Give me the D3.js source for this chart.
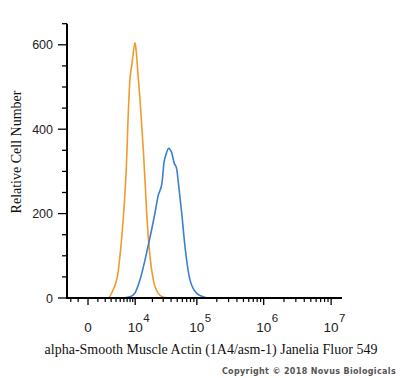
<!DOCTYPE html>
<html>
<head>
<meta charset="utf-8">
<script src="https://cdn.jsdelivr.net/npm/d3@7"></script>
<style>
  body { margin: 0; background: #fff; }
  svg { display: block; }
</style>
</head>
<body>
<svg id="chart" width="400" height="378"></svg>
<script>
// fluorescence intensity (channel value) and cell counts
const isotypeX = [-2620, 0, 2000, 2450, 3370, 4460, 5210, 5750, 6330, 6800, 7280, 7980, 8600, 9100, 9930, 10350, 11260, 12230, 13990, 15160, 16020, 18220, 20700, 25000, 30100, 38500, 1.45e7];
const isotypeY = [0, 0, 0, 0, 19, 60, 125, 180, 250, 320, 420, 520, 550, 575, 605, 590, 530, 471, 352, 265, 200, 98, 43, 11, 2, 0, 0];

const stainedX = [-2620, 0, 4950, 7980, 9930, 12230, 16860, 22080, 24730, 28730, 30900, 33280, 36730, 38500, 40950, 44480, 49030, 51350, 58580, 65880, 78580, 99500, 124000, 158000, 1.45e7];
const stainedY = [0, 0, 0, 3, 12, 43, 122, 202, 241, 273, 321, 340, 355, 352, 345, 321, 306, 281, 202, 122, 43, 11, 3, 0, 0];

const yMajor = [0, 200, 400, 600];
const xMajor = [0, 1e4, 1e5, 1e6, 1e7];
const xLabels = [["0", ""], ["10", "4"], ["10", "5"], ["10", "6"], ["10", "7"]];

const svg = d3.select("#chart");

const x = d3.scaleSymlog()
    .constant(2500)
    .domain([-2620, 1.45e7])
    .range([67, 342]);

const y = d3.scaleLinear()
    .domain([0, 650])
    .range([298, 23.7]);

// minor ticks on x
let xMinor = [-2000, -1000];
for (let i = 1; i < 10; i++) xMinor.push(i * 1000);
[1e4, 1e5, 1e6].forEach(d => {
    for (let i = 2; i < 10; i++) xMinor.push(i * d);
});

const line = d3.line()
    .x(d => x(d[0]))
    .y(d => y(d[1]))
    .curve(d3.curveMonotoneX);

svg.append("path")
    .datum(isotypeX.map((v, i) => [v, isotypeY[i]]))
    .attr("d", line)
    .attr("fill", "none")
    .attr("stroke", "#f19a2e")
    .attr("stroke-width", 1.6);

svg.append("path")
    .datum(stainedX.map((v, i) => [v, stainedY[i]]))
    .attr("d", line)
    .attr("fill", "none")
    .attr("stroke", "#3a80d0")
    .attr("stroke-width", 1.6);

// y axis
const yAxis = svg.append("g");
yAxis.append("line")
    .attr("x1", 67).attr("x2", 67)
    .attr("y1", y(650)).attr("y2", y(0) + 1)
    .attr("stroke", "#000").attr("stroke-width", 2);

yAxis.selectAll(".ymin")
    .data(d3.range(0, 651, 50))
    .enter().append("line")
    .attr("x1", d => yMajor.includes(d) ? 58 : 62)
    .attr("x2", 67)
    .attr("y1", d => y(d)).attr("y2", d => y(d))
    .attr("stroke", "#000").attr("stroke-width", 1.3);

yAxis.selectAll(".ylab")
    .data(yMajor)
    .enter().append("text")
    .attr("x", 53)
    .attr("y", d => y(d) + 4.5)
    .attr("text-anchor", "end")
    .attr("font-family", "Liberation Sans, Arial, sans-serif")
    .attr("font-size", 12.5)
    .attr("fill", "#222")
    .text(d => d);

// x axis
const xAxis = svg.append("g");
xAxis.append("line")
    .attr("x1", 66).attr("x2", 342)
    .attr("y1", 298).attr("y2", 298)
    .attr("stroke", "#000").attr("stroke-width", 2);

xAxis.selectAll(".xmin")
    .data(xMinor)
    .enter().append("line")
    .attr("x1", d => x(d)).attr("x2", d => x(d))
    .attr("y1", 298).attr("y2", 302)
    .attr("stroke", "#000").attr("stroke-width", 1.2);

xAxis.selectAll(".xmaj")
    .data(xMajor)
    .enter().append("line")
    .attr("x1", d => x(d)).attr("x2", d => x(d))
    .attr("y1", 298).attr("y2", 305)
    .attr("stroke", "#000").attr("stroke-width", 1.3);

const xl = xAxis.selectAll(".xlab")
    .data(xMajor)
    .enter().append("g");

xl.append("text")
    .attr("x", d => x(d))
    .attr("y", 332)
    .attr("text-anchor", "middle")
    .attr("font-family", "Liberation Sans, Arial, sans-serif")
    .attr("font-size", 13.5)
    .attr("fill", "#222")
    .text((d, i) => xLabels[i][0]);

xl.append("text")
    .attr("x", d => x(d) + 8)
    .attr("y", 322)
    .attr("font-family", "Liberation Sans, Arial, sans-serif")
    .attr("font-size", 11.5)
    .attr("fill", "#222")
    .text((d, i) => xLabels[i][1]);

// titles
svg.append("text")
    .attr("x", 211)
    .attr("y", 354)
    .attr("text-anchor", "middle")
    .attr("font-family", "Liberation Serif, Times New Roman, serif")
    .attr("font-size", 14)
    .attr("fill", "#111")
    .text("alpha-Smooth Muscle Actin (1A4/asm-1) Janelia Fluor 549");

svg.append("text")
    .attr("transform", "translate(21,152) rotate(-90)")
    .attr("text-anchor", "middle")
    .attr("font-family", "Liberation Serif, Times New Roman, serif")
    .attr("font-size", 14)
    .attr("fill", "#111")
    .text("Relative Cell Number");

svg.append("text")
    .attr("x", 396)
    .attr("y", 374)
    .attr("text-anchor", "end")
    .attr("font-family", "DejaVu Sans, sans-serif")
    .attr("font-size", 8)
    .attr("font-weight", "bold")
    .attr("letter-spacing", 0.35)
    .attr("fill", "#555")
    .text("Copyright \u00A9 2018 Novus Biologicals");
</script>
</body>
</html>
